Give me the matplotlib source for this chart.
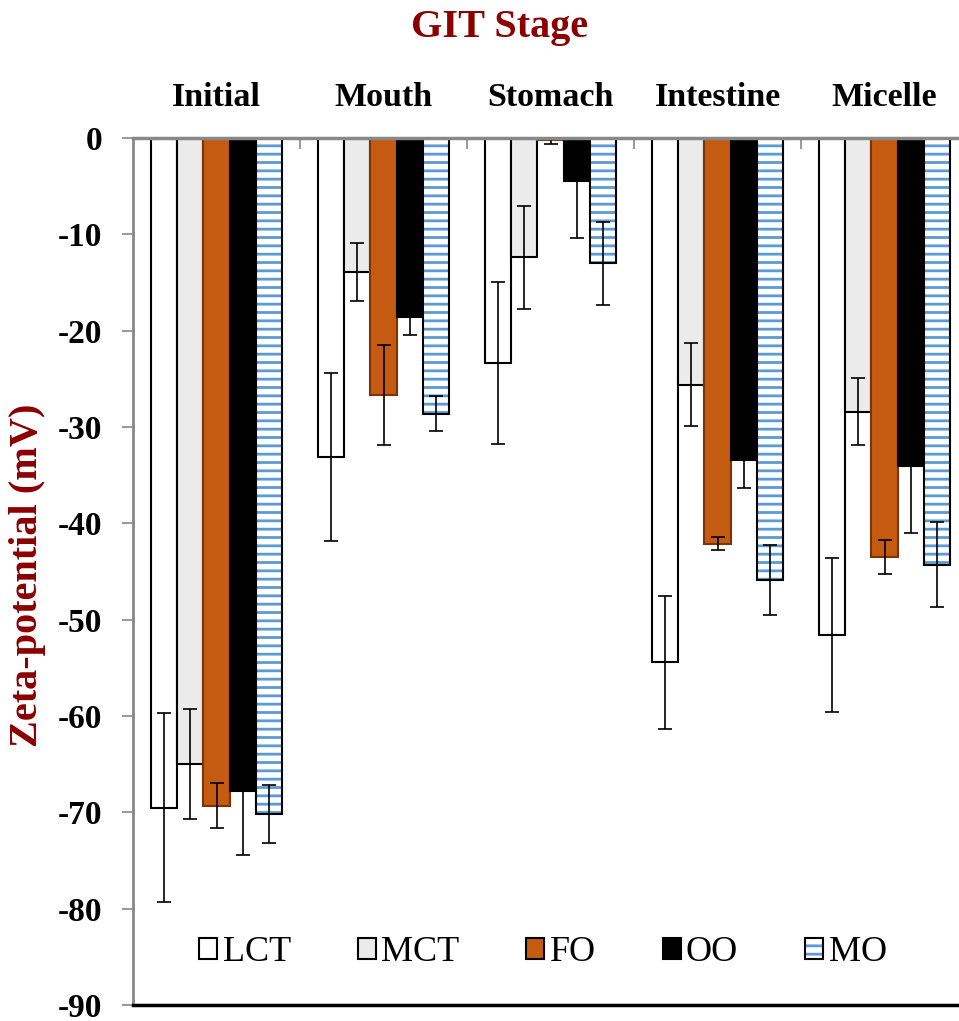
import numpy as np
import matplotlib.pyplot as plt
from matplotlib.patches import Patch

plt.rcParams['font.family'] = ['Liberation Serif', 'DejaVu Serif']
plt.rcParams['hatch.linewidth'] = 2.0
plt.rcParams['axes.unicode_minus'] = False

# dados
estagios = ['Initial', 'Mouth', 'Stomach', 'Intestine', 'Micelle']
oleos = ['LCT', 'MCT', 'FO', 'OO', 'MO']

lct = [-69.5, -33.1, -23.4, -54.4, -51.6]
mct = [-65.0, -13.9, -12.4, -25.6, -28.4]
fo = [-69.3, -26.7, -0.2, -42.1, -43.5]
oo = [-67.8, -18.6, -4.5, -33.4, -34.0]
mo = [-70.2, -28.6, -13.0, -45.9, -44.3]

lct_err = [9.8, 8.7, 8.4, 6.9, 8.0]
mct_err = [5.7, 3.0, 5.3, 4.3, 3.5]
fo_err = [2.3, 5.2, 0.4, 0.7, 1.8]
oo_err = [6.6, 1.9, 5.9, 2.9, 7.0]
mo_err = [3.0, 1.8, 4.3, 3.6, 4.4]

valores = [lct, mct, fo, oo, mo]
erros = [lct_err, mct_err, fo_err, oo_err, mo_err]
cores = ['white', '#ebebeb', '#c55a11', 'black', 'white']
bordas = ['black', 'black', '#7a3408', 'black', 'black']

fig = plt.figure(figsize=(9.59, 10.21), dpi=100)
ax = fig.add_axes([133 / 959, 1 - 1005 / 1021, 835 / 959, 867 / 1021])

x = np.arange(len(estagios))
w = 0.156
handles = []
for i, (nome, v, e, c, b) in enumerate(zip(oleos, valores, erros, cores, bordas)):
    pos = x + (i - 2) * w
    if nome == 'MO':
        # listras azuis + contorno preto
        ax.bar(pos, v, w, color='white', edgecolor='#5b9bd5', hatch='--', linewidth=0)
        ax.bar(pos, v, w, fill=False, edgecolor='black', linewidth=1.5)
        hp = Patch(facecolor='white', edgecolor='#5b9bd5', hatch='--', linewidth=0)
        op = Patch(fill=False, edgecolor='black', linewidth=1.5)
        handles.append((hp, op))
    else:
        ax.bar(pos, v, w, color=c, edgecolor=b, linewidth=1.5)
        handles.append(Patch(facecolor=c, edgecolor='black', linewidth=1.5))
    ax.errorbar(pos, v, yerr=e, fmt='none', ecolor='black', elinewidth=1.2,
                capsize=5, capthick=1.2)

ax.set_ylim(-90, 0)
ax.set_xlim(-0.5, 4.5)
ax.set_yticks(np.arange(-90, 1, 10))
ax.tick_params(axis='y', direction='out', length=8, width=1.2, color='#888888',
               labelsize=24, pad=14)
for t in ax.get_yticklabels():
    t.set_fontweight('bold')

ax.xaxis.tick_top()
ax.set_xticks(x)
ax.set_xticklabels(estagios, fontsize=24.5, fontweight='bold')
ax.tick_params(axis='x', which='major', length=0, pad=18)
ax.set_xticks(np.arange(0.5, 4.5, 1), minor=True)
ax.tick_params(axis='x', which='minor', direction='in', length=8, width=1.2,
               color='#888888', top=True, bottom=False)

ax.spines['top'].set_color('#888888')
ax.spines['top'].set_linewidth(2.5)
ax.spines['left'].set_color('#888888')
ax.spines['left'].set_linewidth(2)
ax.spines['bottom'].set_color('black')
ax.spines['bottom'].set_linewidth(2.5)
ax.spines['right'].set_visible(False)

ax.legend(handles, oleos, loc='center', bbox_to_anchor=(0.491, 0.06), ncol=5,
          frameon=False, fontsize=26, handlelength=0.5, handleheight=0.5,
          handletextpad=0.15, columnspacing=1.85)

fig.text(500 / 959, 1 - 28 / 1021, 'GIT Stage', ha='center', va='center',
         fontsize=29, fontweight='bold', color='#8b0000')
fig.text(28 / 959, 1 - 575 / 1021, 'Zeta-potential (mV)', ha='center', va='center',
         rotation=90, fontsize=29, fontweight='bold', color='#8b0000')

fig.savefig('out.png', dpi=100)
